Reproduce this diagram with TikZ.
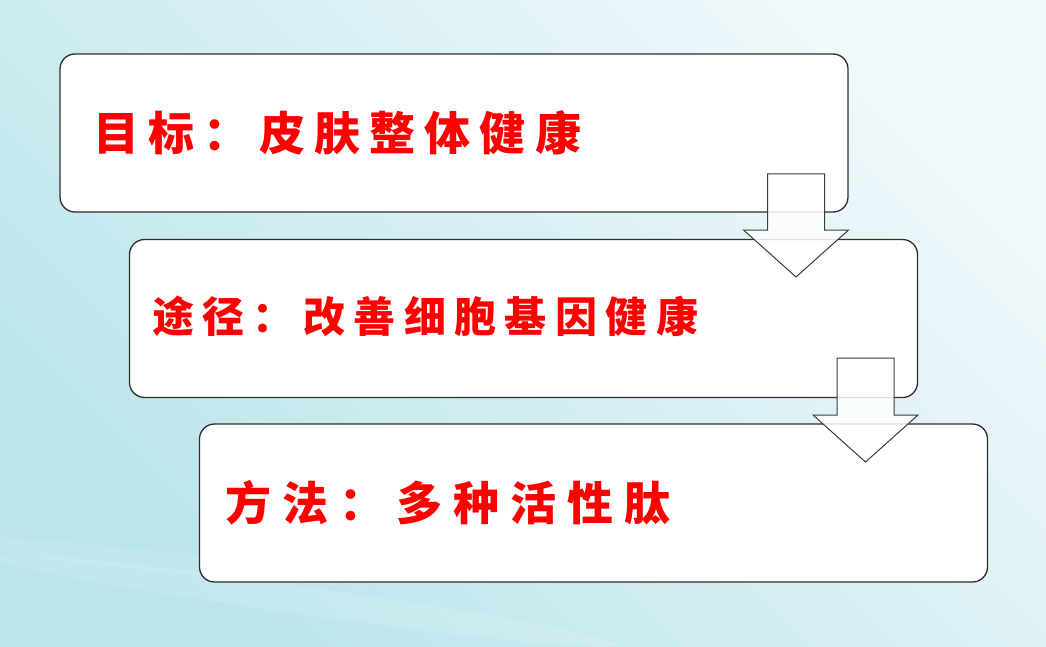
\documentclass[tikz,border=0pt]{standalone}
\usepackage{fontspec}
\usepackage{tikz}
\usetikzlibrary{positioning, calc}
\usepackage{xcolor}
\newfontfamily\cjk{Noto Sans CJK SC}

\definecolor{bgcyan}{RGB}{186,229,235}
\definecolor{bgpale}{RGB}{240,248,251}
\definecolor{boxline}{RGB}{45,45,45}
\definecolor{arrline}{RGB}{60,60,60}

\tikzset{
  stepbox/.style={rectangle, rounded corners=15pt, draw=boxline, line width=1.3pt, fill=white, minimum width=788pt, minimum height=158pt},
  steptext/.style={anchor=west, inner sep=0pt, text=red, font=\cjk\bfseries},
  downarrow/.style={draw=arrline, line width=1pt, fill=white, fill opacity=0.85, line join=miter}
}

\begin{document}
\begin{tikzpicture}[x=1pt, y=-1pt]

% background
\useasboundingbox (0,0) rectangle (1046,647);
\shade[top color=bgcyan, bottom color=bgpale, shading angle=135] (0,0) rectangle (1046,647);
\fill[white, opacity=0.12, rotate around={-8:(300,600)}] (300,600) ellipse (320pt and 14pt);
\fill[white, opacity=0.10, rotate around={-6:(150,560)}] (150,560) ellipse (220pt and 10pt);

% the three steps
\node (box1) [stepbox] at (454,133) {};
\node (box2) [stepbox] at (523.5,318.5) {};
\node (box3) [stepbox] at (593.5,503) {};

\node (goal) [steptext, xshift=34pt] at (box1.west) {\fontsize{46}{54}\selectfont\addfontfeatures{LetterSpace=20}目标：皮肤整体健康};
\node (way) [steptext, xshift=23pt, yshift=2pt] at (box2.west) {\fontsize{42}{50}\selectfont\addfontfeatures{LetterSpace=20}途径：改善细胞基因健康};
\node (method) [steptext, xshift=26pt] at (box3.west) {\fontsize{46}{54}\selectfont\addfontfeatures{LetterSpace=24}方法：多种活性肽};

% block arrows between the steps
\coordinate (tip1) at (796,277);
\coordinate (tip2) at (865.5,462);
\draw[downarrow] (tip1) -- ++(-52.5,-47) -- ++(24,0) -- ++(0,-56) -- ++(57,0) -- ++(0,56) -- ++(24,0) -- cycle;
\draw[downarrow] (tip2) -- ++(-52.5,-47) -- ++(24,0) -- ++(0,-57) -- ++(57,0) -- ++(0,57) -- ++(24,0) -- cycle;

\end{tikzpicture}
\end{document}
